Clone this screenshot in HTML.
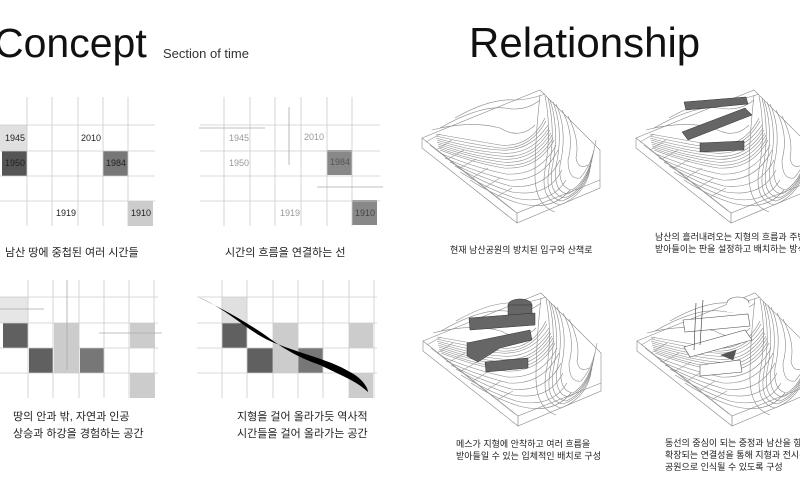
<!DOCTYPE html>
<html><head><meta charset="utf-8"><style>
body{margin:0;background:#fff;width:800px;height:500px;overflow:hidden}
svg{display:block}
.k{font-family:"Liberation Sans","Noto Sans CJK KR",sans-serif;fill:#222}
.n{font-family:"Liberation Sans",sans-serif;font-size:9px;fill:#222}
</style></head><body>
<svg width="800" height="500" viewBox="0 0 800 500" xmlns="http://www.w3.org/2000/svg">
<defs>
<g id="terrain" fill="none" stroke="#777" stroke-width="0.6">
  <path d="M422,138 L540,90 L600,150 L600,188 L517,223 L422,148 Z" stroke="#888" fill="#fff"/>
  <path d="M422,138 L517,213 L600,180" stroke="#888"/>
  <path d="M517,213 L517,223"/>
  <g stroke="#888">
  <path d="M432,130 Q470,120 500,128 Q520,140 535,125"/>
  <path d="M440,128 Q480,105 505,108 Q525,112 540,100"/>
  <path d="M455,118 Q490,98 515,100 Q528,100 545,94"/>
  <path d="M436,134 Q470,140 500,145 Q530,148 545,118"/>
  <path d="M436,136 Q470,144 500,148 Q530,150 546,121"/>
  <path d="M436,138 Q470,148 500,150 Q530,152 548,125"/>
  <path d="M437,140 Q470,151 500,153 Q531,156 549,128"/>
  <path d="M437,142 Q470,153 500,156 Q532,160 550,130"/>
  <path d="M438,144 Q471,156 501,159 Q533,162 551,133"/>
  <path d="M438,146 Q472,158 502,162 Q535,165 552,135"/>
  <path d="M439,148 Q473,161 503,165 Q536,168 553,138"/>
  <path d="M440,150 Q474,163 504,168 Q538,170 554,140"/>
  <path d="M442,154 Q476,168 506,174 Q540,176 556,145"/>
  <path d="M445,158 Q478,173 508,180 Q542,182 558,150"/>
  <path d="M450,162 Q480,178 510,186 Q545,190 560,160"/>
  <path d="M455,166 Q485,184 512,192 Q548,198 562,170"/>
  <path d="M460,172 Q490,190 515,198 Q550,206 566,180"/>
  <path d="M470,180 Q495,196 518,203 Q552,212 570,190"/>
  <path d="M545,96 Q552,130 545,170 Q540,200 560,205 Q585,195 590,170"/>
  <path d="M548,98 Q556,130 549,169 Q544,198 562,201 Q585,193 591,165"/>
  <path d="M550,100 Q560,130 552,168 Q548,195 565,198 Q585,190 592,160"/>
  <path d="M553,102 Q564,130 556,166 Q553,192 568,194 Q587,185 593,155"/>
  <path d="M556,104 Q568,130 560,165 Q558,188 572,190 Q588,180 594,150"/>
  <path d="M562,110 Q575,135 568,160 Q568,180 580,178 Q592,165 596,140"/>
  <path d="M568,116 Q580,140 576,158 Q578,170 588,165"/>
  <path d="M540,95 Q535,140 535,175 Q535,205 555,212"/>
  </g>
  <g stroke="#999">
  <path d="M426,142 L440,134 M436,150 L452,140 M448,159 L464,150 M460,168 L476,159 M472,178 L488,168 M484,188 L500,178 M496,197 L512,188"/>
  <path d="M430,145 L514,211"/>
  </g>
</g>
</defs>

<text x="-6" y="57" font-family="Liberation Sans,sans-serif" font-size="41" fill="#111">Concept</text>
<text x="163" y="58" font-family="Liberation Sans,sans-serif" font-size="13" fill="#333">Section of time</text>
<text x="469" y="57" font-family="Liberation Sans,sans-serif" font-size="42" fill="#111">Relationship</text>

<!-- grid 1 -->
<rect x="0" y="125" width="27" height="26" fill="#e0e0e0"/>
<rect x="2" y="151" width="25" height="25" fill="#555"/>
<rect x="103" y="151" width="25" height="25" fill="#777"/>
<rect x="128" y="201" width="25" height="25" fill="#ccc"/>
<g stroke="#ccc" stroke-width="0.8">
<path d="M27,97V226M52,97V226M78,97V226M103,97V226M128,97V226"/>
<path d="M0,125H155M0,151H155M0,176H155M0,201H155"/>
</g>
<text class="n" x="5" y="141">1945</text><text class="n" x="5" y="166">1950</text>
<text class="n" x="81" y="141">2010</text><text class="n" x="106" y="166">1984</text>
<text class="n" x="56" y="216">1919</text><text class="n" x="131" y="216">1910</text>
<text class="k" x="5" y="256" font-size="11">남산 땅에 중첩된 여러 시간들</text>

<!-- grid 2 -->
<rect x="327" y="150" width="25" height="25" fill="#888"/>
<rect x="352" y="200" width="25" height="25" fill="#888"/>
<g stroke="#ccc" stroke-width="0.8">
<path d="M224,97V226M250,97V226M275,97V226M301,97V226M327,97V226M352,97V226"/>
<path d="M200,125H380M200,151H380M200,176H380M200,201H380"/>
<path d="M199,128H265M289,107V165M317,187H383" stroke="#aaa"/>
</g>
<g class="n" style="fill:#999"><text x="229" y="141">1945</text><text x="229" y="166">1950</text>
<text x="304" y="140">2010</text><text x="330" y="165" style="fill:#555">1984</text>
<text x="280" y="216">1919</text><text x="355" y="216" style="fill:#444">1910</text></g>
<text class="k" x="225" y="256" font-size="11">시간의 흐름을 연결하는 선</text>

<!-- grid 3 -->
<rect x="0" y="297" width="28" height="26" fill="#e6e6e6"/>
<rect x="3" y="323" width="25" height="25" fill="#606060"/>
<rect x="29" y="348" width="24" height="25" fill="#606060"/>
<rect x="54" y="323" width="25" height="50" fill="#ccc"/>
<rect x="80" y="348" width="24" height="25" fill="#777"/>
<rect x="130" y="323" width="25" height="25" fill="#ccc"/>
<rect x="130" y="373" width="25" height="25" fill="#ccc"/>
<g stroke="#ccc" stroke-width="0.8">
<path d="M28,280V398M53,280V398M79,280V398M104,280V398M129,280V398M154,280V398"/>
<path d="M0,297H158M0,323H158M0,348H158M0,373H158"/>
<path d="M0,309H44M67,280V370M99,333H162" stroke="#aaa"/>
</g>
<text class="k" x="13" y="420" font-size="11">땅의 안과 밖, 자연과 인공</text>
<text class="k" x="13" y="437" font-size="11">상승과 하강을 경험하는 공간</text>

<!-- grid 4 -->
<rect x="222" y="297" width="25" height="26" fill="#e0e0e0"/>
<rect x="222" y="323" width="25" height="25" fill="#606060"/>
<rect x="247" y="348" width="26" height="25" fill="#606060"/>
<rect x="273" y="323" width="25" height="50" fill="#ccc"/>
<rect x="298" y="348" width="25" height="25" fill="#777"/>
<rect x="349" y="323" width="24" height="25" fill="#ccc"/>
<rect x="349" y="373" width="24" height="25" fill="#ccc"/>
<g stroke="#ccc" stroke-width="0.8">
<path d="M222,280V398M247,280V398M273,280V398M298,280V398M323,280V398M349,280V398M374,280V398"/>
<path d="M197,297H377M197,323H377M197,348H377M197,373H377"/>
</g>
<path d="M198,297 C230,310 250,335 280,345 C305,355 330,360 350,372 C362,378 368,388 368,392 C355,380 340,375 320,365 C300,358 285,350 265,335 C240,318 215,305 198,297 Z" fill="#000"/>
<text class="k" x="237" y="420" font-size="11">지형을 걸어 올라가듯 역사적</text>
<text class="k" x="237" y="437" font-size="11">시간들을 걸어 올라가는 공간</text>

<!-- axonometrics -->
<use href="#terrain"/>
<use href="#terrain" transform="translate(214,0)"/>
<use href="#terrain" transform="translate(1,203)"/>
<use href="#terrain" transform="translate(215,203)"/>

<!-- top-right masses -->
<g fill="#666" stroke="#333" stroke-width="0.5">
<polygon points="684,102 746,97 748,104 686,110"/>
<polygon points="682,132 745,108 752,115 688,140"/>
<polygon points="700,143 744,141 744,150 700,152"/>
</g>
<!-- bottom-left masses -->
<g fill="#666" stroke="#333" stroke-width="0.5">
<ellipse cx="520" cy="305" rx="12" ry="6"/>
<rect x="508" y="305" width="24" height="10"/>
<polygon points="469,318 535,313 535,325 470,330"/>
<polygon points="467,343 530,330 532,340 500,348 478,362 467,356"/>
<polygon points="485,362 528,358 528,368 486,372"/>
</g>
<!-- bottom-right masses -->
<g fill="#fff" stroke="#555" stroke-width="0.6">
<ellipse cx="738" cy="303" rx="11" ry="6"/>
<rect x="727" y="303" width="22" height="9" stroke="none"/>
<polygon points="683,320 748,314 750,326 685,332"/>
<polygon points="684,347 745,330 752,340 690,357"/>
<polygon points="700,365 740,360 742,372 700,376"/>
<path d="M696,303 L694,350 M703,300 L700,345" stroke="#333"/>
<polygon points="721,355 736,350 733,360" fill="#555"/>
</g>

<text class="k" x="450" y="253" font-size="9">현재 남산공원의 방치된 입구와 산책로</text>
<text class="k" x="655" y="240" font-size="9">남산의 흘러내려오는 지형의 흐름과 주변 맥락을</text>
<text class="k" x="655" y="252" font-size="9">받아들이는 판을 설정하고 배치하는 방식</text>
<text class="k" x="456" y="447" font-size="9">메스가 지형에 안착하고 여러 흐름을</text>
<text class="k" x="456" y="459" font-size="9">받아들일 수 있는 입체적인 배치로 구성</text>
<text class="k" x="665" y="446" font-size="9">동선의 중심이 되는 중정과 남산을 향해</text>
<text class="k" x="665" y="458" font-size="9">확장되는 연결성을 통해 지형과 전시관이</text>
<text class="k" x="665" y="470" font-size="9">공원으로 인식될 수 있도록 구성</text>
</svg>
</body></html>
